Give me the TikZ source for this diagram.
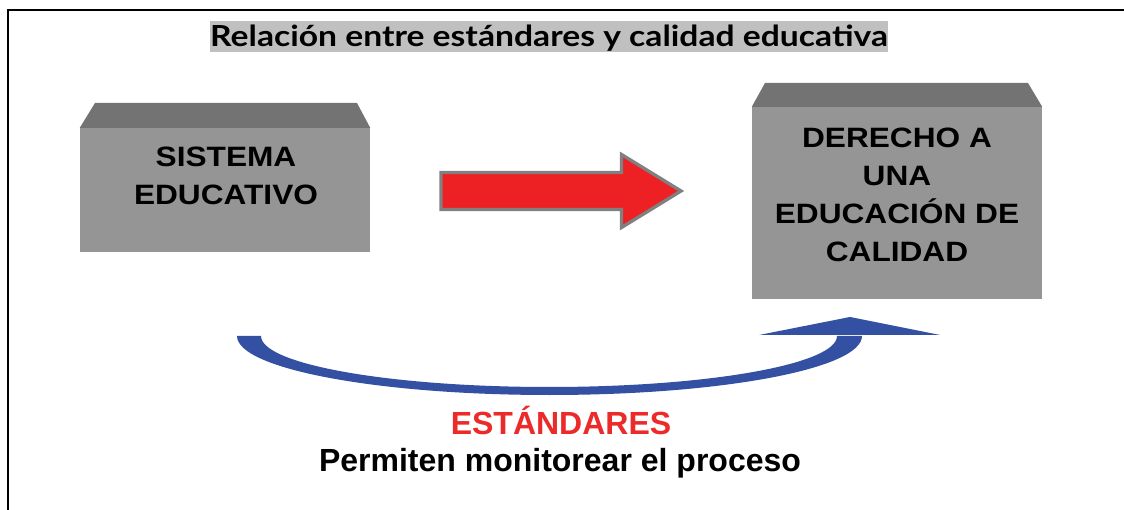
\documentclass[tikz,border=0pt]{standalone}
\usepackage{fontspec}
\setmainfont{Liberation Sans}
\newfontfamily\titlefont[FakeStretch=1.16]{Lato}
\newfontfamily\boxfont[FakeStretch=1.13]{Liberation Sans}
\definecolor{frontgray}{HTML}{959595}
\definecolor{topgray}{HTML}{737373}
\definecolor{titlegray}{HTML}{C0C0C0}
\definecolor{arrowred}{HTML}{ED2024}
\definecolor{arrowedge}{HTML}{808080}
\definecolor{arcblue}{HTML}{3450A2}
\definecolor{txtred}{HTML}{ED2A2A}
\tikzset{
  face/.style={fill=frontgray, inner sep=0pt},
  topface/.style={fill=topgray},
  boxtext/.style={align=center, inner sep=0pt, font=\boxfont\bfseries\fontsize{28}{38}\selectfont},
  captext/.style={inner sep=0pt, anchor=base, font=\bfseries\fontsize{32}{38}\selectfont}
}
\begin{document}
\begin{tikzpicture}[x=1pt,y=-1pt]
\useasboundingbox (0,0) rectangle (1124,510);
\fill[white] (0,0) rectangle (1124,510);
% frame
\draw[line width=2pt] (8.3,512) -- (8.3,10.3) -- (1126,10.3);
% title
\fill[titlegray] (210,21) rectangle (888,52);
\node[inner sep=0pt, anchor=base, font=\titlefont\bfseries\fontsize{29}{32}\selectfont] (title) at (549,46.5) {Relación entre estándares y calidad educativa};
% box 1
\node[face, minimum width=290pt, minimum height=124pt] (sys) at (225,190) {};
\fill[topface] (sys.north west) -- (95,103) -- (357,103) -- (sys.north east) -- cycle;
\node[boxtext] (systext) at (226,176) {SISTEMA\\EDUCATIVO};
% box 2
\node[face, minimum width=290pt, minimum height=192pt] (der) at (897,203) {};
\fill[topface] (der.north west) -- (765,83) -- (1028,83) -- (der.north east) -- cycle;
\node[boxtext] (dertext) at (897,194.5) {DERECHO A\\UNA\\EDUCACIÓN DE\\CALIDAD};
% red arrow
\draw[fill=arrowred, draw=arrowedge, line width=3.3pt, line join=miter]
  (441,172.5) -- (621.5,172.5) -- (621.5,154.5) -- (681,191) -- (621.5,227.5) -- (621.5,209.5) -- (441,209.5) -- cycle;
% blue curved arrow
\coordinate (arcL) at (237,336);
\coordinate (arcR) at (862,336);
\fill[arcblue] (arcL) .. controls (237,368.6) and (376.9,395) .. (549.5,395)
  .. controls (722.1,395) and (862,368.6) .. (arcR)
  -- (837,336) .. controls (837,364.2) and (708.1,387) .. (549,387)
  .. controls (389.9,387) and (261,364.2) .. (261,336) -- cycle;
\fill[arcblue] (759,335) -- (850,317) -- (940,335) -- cycle;
% captions
\node[captext, text=txtred] (std) at (561,434) {ESTÁNDARES};
\node[captext] (perm) at (560,471) {Permiten monitorear el proceso};
\end{tikzpicture}
\end{document}
